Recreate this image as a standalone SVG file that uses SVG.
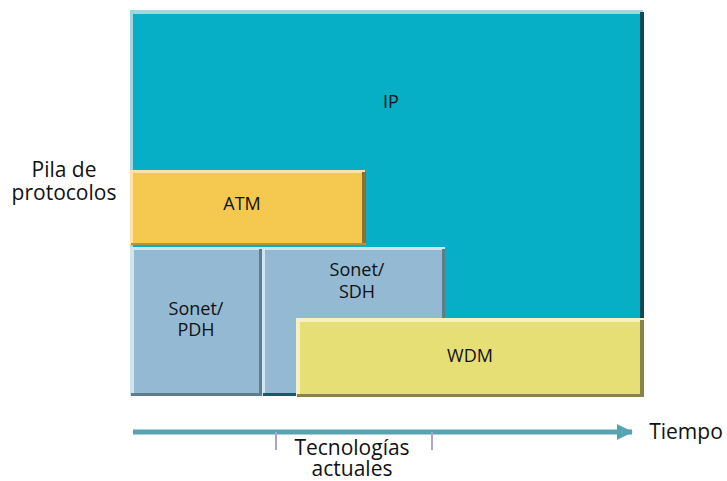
<svg xmlns="http://www.w3.org/2000/svg" width="727" height="481" viewBox="0 0 727 481">
<defs>
<style>
text{font-family:"Open Sans","Noto Sans",sans-serif;fill:#111111;text-anchor:middle}
.lbl{font-size:18px}
.ax{font-size:21px}
</style>
<marker id="ah" markerWidth="16" markerHeight="16" refX="15" refY="8" orient="auto" markerUnits="userSpaceOnUse">
<path d="M0,0 L16,8 L0,16 Z" fill="#58a3b2"/>
</marker>
</defs>
<rect width="727" height="481" fill="#ffffff"/>
<g id="ip">
<rect x="130" y="10" width="513" height="386" fill="#06aec6"/>
<rect x="130" y="10" width="513" height="4" fill="#a7d3de"/>
<rect x="130" y="10" width="3" height="386" fill="#a7d3de"/>
<rect x="640" y="12" width="4" height="384" fill="#0d4a58"/>
<text class="lbl" x="391" y="108">IP</text>
</g>
<g id="atm">
<rect x="130" y="170" width="235" height="75" fill="#f5c850"/>
<rect x="130" y="170" width="235" height="3" fill="#fde4a5"/>
<rect x="130" y="170" width="3" height="75" fill="#fde4a5"/>
<rect x="362" y="172" width="4" height="73" fill="#8c7030"/>
<rect x="131" y="243" width="235" height="2" fill="#b6923c"/>
<text class="lbl" x="242" y="210">ATM</text>
</g>
<g id="sonet-pdh">
<rect x="130" y="247" width="132" height="149" fill="#93b9d3"/>
<rect x="130" y="247" width="132" height="3" fill="#d2e4ee"/>
<rect x="130" y="247" width="4" height="149" fill="#d2e4ee"/>
<rect x="259" y="249" width="3" height="147" fill="#5e7d8c"/>
<rect x="131" y="393" width="131" height="3" fill="#5e7d8c"/>
<text class="lbl" x="196" y="315">Sonet/<tspan x="196" dy="21">PDH</tspan></text>
</g>
<g id="sonet-sdh">
<rect x="262" y="247" width="183" height="149" fill="#93b9d3"/>
<rect x="262" y="247" width="183" height="3" fill="#d2e4ee"/>
<rect x="262" y="247" width="3" height="149" fill="#d2e4ee"/>
<rect x="442" y="249" width="3" height="147" fill="#5e7d8c"/>
<rect x="263" y="393" width="182" height="3" fill="#17586a"/>
<text class="lbl" x="357" y="276">Sonet/<tspan x="357" dy="22">SDH</tspan></text>
</g>
<g id="wdm">
<rect x="296" y="318" width="348" height="79" fill="#e6df76"/>
<rect x="296" y="318" width="348" height="4" fill="#f6f0c2"/>
<rect x="296" y="318" width="4" height="79" fill="#f6f0c2"/>
<rect x="640" y="320" width="4" height="77" fill="#88844a"/>
<rect x="297" y="394" width="347" height="3" fill="#88844a"/>
<text class="lbl" x="470" y="362">WDM</text>
</g>
<g id="connectors">
<line x1="133" y1="432" x2="632" y2="432" stroke="#58a3b2" stroke-width="5" marker-end="url(#ah)"/>
<line x1="276" y1="432" x2="276" y2="450" stroke="#a9a4d4" stroke-width="2"/>
<line x1="432" y1="432" x2="432" y2="450" stroke="#a9a4d4" stroke-width="2"/>
</g>
<g id="labels">
<text class="ax" x="64" y="177">Pila de<tspan x="64" dy="23">protocolos</tspan></text>
<text class="ax" x="352" y="455">Tecnologías<tspan x="352" dy="21">actuales</tspan></text>
<text class="ax" x="686" y="439">Tiempo</text>
</g>
</svg>
